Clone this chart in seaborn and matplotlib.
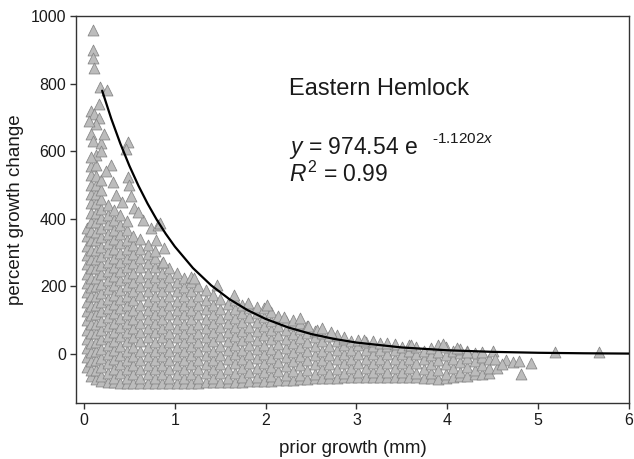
import matplotlib
matplotlib.use("Agg")
import matplotlib.pyplot as plt
import seaborn as sns
import pandas as pd

# ---------------- data ----------------
# dense cloud, stored column by column: x of the column, y values in it
growth_cols = [0.03, 0.08, 0.13, 0.19, 0.26, 0.33, 0.40, 0.47, 0.54, 0.62,
               0.70, 0.78, 0.86, 0.94, 1.02, 1.10, 1.18, 1.26, 1.34, 1.42,
               1.50, 1.58, 1.66, 1.74, 1.82, 1.90, 1.98, 2.06, 2.14, 2.22,
               2.30, 2.38, 2.46, 2.54, 2.62, 2.70, 2.78, 2.86, 2.94, 3.02,
               3.10, 3.18, 3.26, 3.34, 3.42, 3.50, 3.58, 3.66, 3.74, 3.82,
               3.90, 3.98, 4.06, 4.14, 4.22, 4.30, 4.38, 4.46]
change_cols = [
    [-38, -10, 18, 45, 72, 100, 128, 155, 183, 210, 238, 265, 292, 320, 348, 372],
    [-64, -48, -22, 6, 33, 61, 88, 116, 143, 171, 198, 226, 253, 281, 308, 336, 363, 391, 418, 446, 473, 501, 530, 556],
    [-75, -46, -18, 8, 36, 63, 90, 118, 145, 172, 200, 226, 254, 282, 308, 336, 362, 390, 418, 446, 472, 500, 528, 560, 588],
    [-80, -66, -38, -11, 16, 44, 71, 98, 126, 153, 181, 208, 236, 263, 291, 318, 346, 374, 401, 430, 458, 485, 515],
    [-83, -56, -28, 0, 27, 54, 82, 110, 136, 164, 191, 219, 246, 273, 301, 328, 356, 384, 412, 440],
    [-84, -70, -43, -16, 11, 38, 65, 93, 120, 148, 175, 203, 230, 257, 284, 311, 339, 366, 395, 425],
    [-85, -57, -30, -2, 25, 53, 80, 107, 135, 163, 190, 218, 245, 272, 300, 328, 355, 383, 410],
    [-85, -72, -45, -18, 9, 37, 64, 91, 119, 146, 173, 201, 228, 256, 283, 310, 338, 366, 392],
    [-86, -59, -32, -5, 22, 50, 77, 104, 131, 159, 186, 213, 241, 268, 296, 323, 350],
    [-86, -72, -45, -18, 10, 37, 64, 92, 119, 146, 174, 201, 229, 256, 283, 312, 340],
    [-86, -59, -32, -5, 22, 49, 77, 104, 131, 158, 186, 213, 240, 268, 296, 322],
    [-86, -72, -45, -18, 9, 36, 64, 91, 118, 146, 173, 200, 228, 256, 284, 305],
    [-86, -59, -32, -5, 22, 49, 76, 103, 131, 158, 185, 213, 240, 270],
    [-86, -72, -45, -18, 9, 36, 63, 90, 118, 145, 172, 200, 228, 255],
    [-86, -59, -32, -5, 22, 49, 76, 103, 130, 158, 185, 212, 240],
    [-85, -72, -45, -18, 9, 36, 63, 90, 117, 144, 171, 199, 226],
    [-85, -58, -31, -4, 23, 50, 77, 104, 131, 158, 185, 212],
    [-85, -72, -45, -18, 9, 36, 63, 90, 117, 144, 172, 200],
    [-84, -57, -30, -3, 24, 51, 78, 105, 132, 160, 188],
    [-84, -71, -44, -17, 10, 37, 64, 91, 118, 146, 174],
    [-83, -56, -29, -2, 25, 52, 79, 106, 133, 162],
    [-83, -70, -43, -16, 11, 38, 65, 92, 119, 148],
    [-82, -55, -28, -1, 26, 53, 80, 107, 134, 160],
    [-82, -68, -41, -14, 13, 40, 67, 94, 121, 145],
    [-81, -54, -27, 0, 27, 54, 81, 108, 135],
    [-80, -67, -40, -13, 14, 41, 68, 95, 122, 140],
    [-80, -53, -26, 1, 28, 55, 82, 110, 136],
    [-79, -65, -38, -11, 16, 43, 70, 97, 124],
    [-78, -51, -24, 3, 30, 57, 84, 112],
    [-77, -63, -36, -9, 18, 45, 72, 98],
    [-76, -49, -22, 5, 32, 59, 85, 100],
    [-75, -61, -34, -7, 20, 47, 74, 92],
    [-73, -46, -19, 8, 35, 62, 82],
    [-72, -58, -31, -4, 23, 50, 68],
    [-71, -44, -17, 10, 37, 62],
    [-70, -56, -29, -2, 25, 52],
    [-70, -43, -16, 11, 38, 55],
    [-69, -55, -28, -1, 26, 45],
    [-69, -42, -15, 12, 38],
    [-68, -54, -27, 0, 27, 42],
    [-68, -41, -14, 13, 36],
    [-68, -54, -27, 0, 25, 38],
    [-68, -41, -14, 13, 33],
    [-68, -54, -27, 0, 24],
    [-68, -41, -14, 12, 30],
    [-68, -54, -27, 0, 22],
    [-68, -41, -14, 10, 27],
    [-69, -55, -28, -1, 20],
    [-70, -43, -16, 8],
    [-70, -56, -29, -2, 18],
    [-73, -46, -19, 6, 28],
    [-72, -58, -31, -4, 22],
    [-68, -41, -14, 10],
    [-66, -52, -25, 2, 15],
    [-64, -38, -12, 8],
    [-60, -46, -20, 2],
    [-58, -32, -8, 6],
    [-55, -40, -15],
]

# scattered points outside the dense cloud
outlier_growth = [0.10, 0.10, 0.10, 0.11, 0.18, 0.25, 0.17, 0.08, 0.11, 0.16,
                  0.13, 0.08, 0.10, 0.19, 0.48, 0.46, 0.19, 0.08, 0.48, 0.50,
                  0.32, 0.52, 0.55, 0.65, 0.74, 0.81, 0.84, 0.79, 0.88, 0.87,
                  1.18, 1.21, 1.46, 1.65, 1.81, 2.02, 2.20, 2.38, 2.57, 2.47,
                  2.62, 2.72, 2.86, 3.08, 3.34, 3.60, 3.95, 4.11, 4.22, 4.50,
                  0.30, 0.24, 0.35, 0.60, 0.42, 0.22, 0.06, 4.55, 4.52, 4.65,
                  4.72, 4.79, 4.81, 4.92, 5.18, 5.67, 4.60]
outlier_change = [960, 900, 877, 847, 791, 782, 741, 720, 711, 699,
                  681, 652, 631, 625, 628, 607, 600, 584, 525, 500,
                  510, 466, 432, 397, 373, 382, 388, 338, 314, 272,
                  228, 225, 204, 175, 150, 145, 110, 107, 71, 83,
                  77, 65, 50, 41, 33, 27, 30, 18, 7, 10,
                  560, 540, 470, 420, 450, 650, 690, -40, -15, -18,
                  -25, -22, -59, -26, 7, 7, -30]

# fitted curve y = 974.54 e^(-1.1202x)
curve_growth = [0.2, 0.3, 0.4, 0.5, 0.6, 0.7, 0.8, 0.9, 1.0, 1.2, 1.4, 1.6,
                1.8, 2.0, 2.25, 2.5, 2.75, 3.0, 3.5, 4.0, 4.5, 5.0, 5.5, 6.0]
curve_change = [779.0, 696.3, 622.5, 556.6, 497.6, 444.9, 397.7, 355.6, 317.9,
                254.1, 203.1, 162.4, 129.8, 103.7, 78.4, 59.2, 44.8, 33.8,
                19.3, 11.0, 6.3, 3.6, 2.1, 1.2]

x_ticks = [0, 1, 2, 3, 4, 5, 6]
y_ticks = [0, 200, 400, 600, 800, 1000]

# ---------------- build tables ----------------
pts_x, pts_y = [], []
for gx, ys in zip(growth_cols, change_cols):
    for yv in ys:
        pts_x.append(gx)
        pts_y.append(yv)
pts_x += outlier_growth
pts_y += outlier_change
scatter_df = pd.DataFrame({"growth": pts_x, "change": pts_y})
curve_df = pd.DataFrame({"growth": curve_growth, "change": curve_change})

# ---------------- plot ----------------
sns.set_theme(style="white")
plt.rcParams["font.family"] = ["Liberation Sans", "DejaVu Sans"]
plt.rcParams["mathtext.fontset"] = "custom"
plt.rcParams["mathtext.rm"] = "Liberation Sans"
plt.rcParams["mathtext.it"] = "Liberation Sans:italic"

fig = plt.figure(figsize=(6.34, 4.59), dpi=100)
ax = fig.add_axes([76 / 634, 1 - 403 / 459, (629 - 76) / 634, (403 - 16) / 459])

sns.scatterplot(data=scatter_df, x="growth", y="change", ax=ax, marker="^",
                s=62, color="#bcbcbc", edgecolor="#858585", linewidth=0.55,
                legend=False, zorder=2)
sns.lineplot(data=curve_df, x="growth", y="change", ax=ax, color="black",
             linewidth=1.6, zorder=3, estimator=None, sort=False)

ax.set_xlim(-0.088, 6.0)
ax.set_ylim(-145, 1000)
ax.set_xticks(x_ticks)
ax.set_yticks(y_ticks)
ax.tick_params(axis="both", direction="out", length=4, width=1,
               color="#333333", labelsize=11.5, labelcolor="#1a1a1a",
               bottom=True, left=True, pad=3)
for sp in ax.spines.values():
    sp.set_color("#333333")
    sp.set_linewidth(1.0)

ax.set_xlabel("prior growth (mm)", fontsize=13.5, color="#1a1a1a", labelpad=9)
ax.set_ylabel("percent growth change", fontsize=13.5, color="#1a1a1a", labelpad=5)

ax.text(0.385, 0.797, "Eastern Hemlock", transform=ax.transAxes,
        fontsize=17, color="#1a1a1a", ha="left", va="baseline")
ax.text(0.385, 0.643, r"$y$ = 974.54 e", transform=ax.transAxes,
        fontsize=16.5, color="#1a1a1a", ha="left", va="baseline")
ax.text(0.643, 0.673, r"-1.1202$x$", transform=ax.transAxes,
        fontsize=11, color="#1a1a1a", ha="left", va="baseline")
ax.text(0.385, 0.572, r"$R^2$ = 0.99", transform=ax.transAxes,
        fontsize=16.5, color="#1a1a1a", ha="left", va="baseline")

fig.savefig("out.png", dpi=100)
